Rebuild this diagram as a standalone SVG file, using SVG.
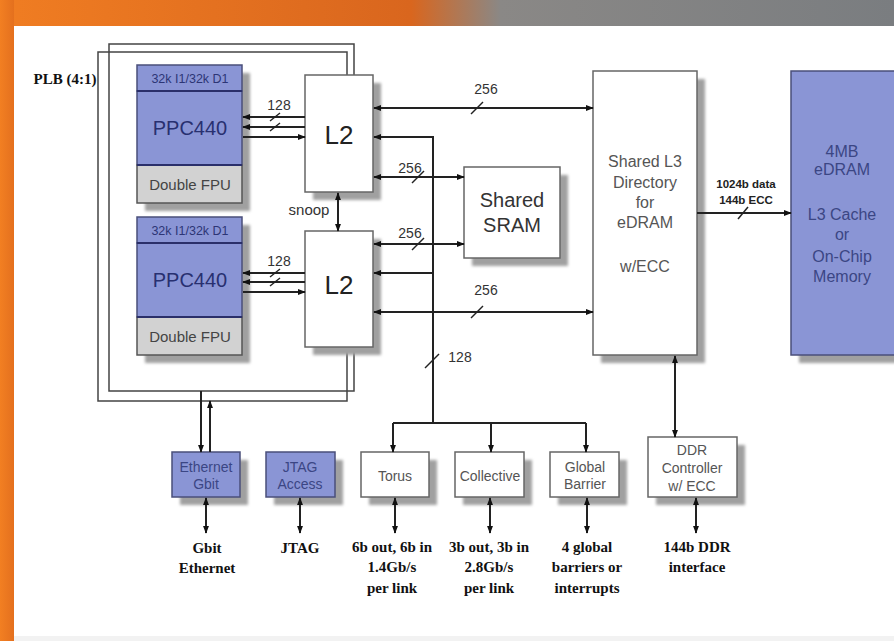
<svg xmlns="http://www.w3.org/2000/svg" width="894" height="641" viewBox="0 0 894 641">
<defs>
<linearGradient id="hdr" x1="0" y1="0" x2="1" y2="0">
<stop offset="0" stop-color="#f07d22"/>
<stop offset="0.46" stop-color="#d9661e"/>
<stop offset="0.56" stop-color="#8a8886"/>
<stop offset="1" stop-color="#7a7d80"/>
</linearGradient>
<linearGradient id="strip" x1="0" y1="0" x2="1" y2="0">
<stop offset="0" stop-color="#f27f22"/>
<stop offset="1" stop-color="#e4701e"/>
</linearGradient>
<filter id="blur" x="-10%" y="-10%" width="120%" height="120%"><feGaussianBlur stdDeviation="1.5"/></filter>
<marker id="a" viewBox="0 0 10 10" refX="9" refY="5" markerWidth="8" markerHeight="8" markerUnits="userSpaceOnUse" orient="auto-start-reverse"><path d="M0,1.2 L10,5 L0,8.8z" fill="#111"/></marker>
</defs>
<style>
.sh{fill:#a0a0a0;filter:url(#blur)}
.wb{fill:#fff;stroke:#666;stroke-width:1.5}
.bb{fill:#8a95d5;stroke:#4a4f7a;stroke-width:1.5}
.gb{fill:#d2d2d2;stroke:#555;stroke-width:1.5}
.ln{stroke:#222;stroke-width:2;fill:none}
.pl{stroke:#444;stroke-width:1.5;fill:none}
.sl{stroke:#222;stroke-width:1.5}
.ar{marker-end:url(#a)}
.ab{marker-start:url(#a);marker-end:url(#a)}
text{font-family:"Liberation Sans",Arial,sans-serif;text-anchor:middle}
.t13{font-size:14px;fill:#333}
.tg{font-size:14px;fill:#555}
.tb{font-size:14px;fill:#3b4684}
.bt{font-family:"Liberation Serif","Times New Roman",serif;font-weight:bold;font-size:15px;fill:#111}
</style>
<rect width="894" height="641" fill="#fff"/>
<rect x="0" y="0" width="894" height="26" fill="url(#hdr)"/>
<rect x="0" y="0" width="14" height="641" fill="url(#strip)"/>
<rect x="14" y="636" width="880" height="5" fill="#f2f2f2"/>

<text x="65" y="84" class="bt" style="font-size:15px">PLB (4:1)</text>

<g id="plb">
<path class="pl" d="M354,75 V44 H109 V391 H354 V347"/>
<path class="pl" d="M347,75 V52 H98 V401 H347 V347"/>
</g>

<g id="ppc1">
<rect class="sh" x="145" y="73" width="105" height="138"/>
<rect class="bb" x="137" y="65" width="105" height="26"/>
<rect class="bb" x="137" y="91" width="105" height="74"/>
<rect class="gb" x="137" y="165" width="105" height="38"/>
<line x1="137" y1="91" x2="242" y2="91" stroke="#2a2f6a" stroke-width="2"/>
<line x1="137" y1="165" x2="242" y2="165" stroke="#2a2f6a" stroke-width="2"/>
<text x="190" y="83" style="font-size:12.5px;fill:#2d3575">32k I1/32k D1</text>
<text x="190" y="135" style="font-size:20px;fill:#283070">PPC440</text>
<text x="190" y="190" style="font-size:15px;fill:#444">Double FPU</text>
</g>

<g id="ppc2">
<rect class="sh" x="145" y="225" width="105" height="138"/>
<rect class="bb" x="137" y="217" width="105" height="26"/>
<rect class="bb" x="137" y="243" width="105" height="74"/>
<rect class="gb" x="137" y="317" width="105" height="38"/>
<line x1="137" y1="243" x2="242" y2="243" stroke="#2a2f6a" stroke-width="2"/>
<line x1="137" y1="317" x2="242" y2="317" stroke="#2a2f6a" stroke-width="2"/>
<text x="190" y="235" style="font-size:12.5px;fill:#2d3575">32k I1/32k D1</text>
<text x="190" y="287" style="font-size:20px;fill:#283070">PPC440</text>
<text x="190" y="342" style="font-size:15px;fill:#444">Double FPU</text>
</g>

<g id="l2a">
<rect class="sh" x="313" y="83" width="68" height="117"/>
<rect class="wb" x="305" y="75" width="68" height="117"/>
<text x="339" y="144" style="font-size:26px;fill:#222">L2</text>
</g>

<g id="l2b">
<rect class="sh" x="313" y="239" width="68" height="116"/>
<rect class="wb" x="305" y="231" width="68" height="116"/>
<text x="339" y="294" style="font-size:26px;fill:#222">L2</text>
</g>

<g id="sram">
<rect class="sh" x="472" y="175" width="96" height="91"/>
<rect class="wb" x="464" y="167" width="96" height="91"/>
<text x="512" y="207" style="font-size:20px;fill:#333">Shared</text>
<text x="512" y="232" style="font-size:20px;fill:#333">SRAM</text>
</g>

<g id="l3dir">
<rect class="sh" x="601" y="79" width="104" height="284"/>
<rect class="wb" x="593" y="71" width="104" height="284"/>
<text x="645" y="167" class="tg" style="font-size:16px">Shared L3</text>
<text x="645" y="188" class="tg" style="font-size:16px">Directory</text>
<text x="645" y="208" class="tg" style="font-size:16px">for</text>
<text x="645" y="228" class="tg" style="font-size:16px">eDRAM</text>
<text x="645" y="272" class="tg" style="font-size:16px">w/ECC</text>
</g>

<g id="edram">
<rect class="sh" x="799" y="79" width="100" height="284"/>
<rect class="bb" x="791" y="71" width="110" height="284"/>
<text x="842" y="157" class="tb" style="font-size:16px">4MB</text>
<text x="842" y="175" class="tb" style="font-size:16px">eDRAM</text>
<text x="842" y="220" class="tb" style="font-size:16px">L3 Cache</text>
<text x="842" y="240" class="tb" style="font-size:16px">or</text>
<text x="842" y="262" class="tb" style="font-size:16px">On-Chip</text>
<text x="842" y="282" class="tb" style="font-size:16px">Memory</text>
</g>

<g id="eth">
<rect class="sh" x="180" y="460" width="68" height="45"/>
<rect class="bb" x="172" y="452" width="68" height="45"/>
<text x="206" y="472" class="tb">Ethernet</text>
<text x="206" y="489" class="tb">Gbit</text>
</g>

<g id="jtag">
<rect class="sh" x="274" y="460" width="69" height="45"/>
<rect class="bb" x="266" y="452" width="69" height="45"/>
<text x="300" y="472" class="tb">JTAG</text>
<text x="300" y="489" class="tb">Access</text>
</g>

<g id="torus">
<rect class="sh" x="369" y="460" width="68" height="45"/>
<rect class="wb" x="361" y="452" width="68" height="45"/>
<text x="395" y="481" class="tg">Torus</text>
</g>

<g id="collective">
<rect class="sh" x="463" y="460" width="69" height="45"/>
<rect class="wb" x="455" y="452" width="69" height="45"/>
<text x="490" y="481" class="tg">Collective</text>
</g>

<g id="barrier">
<rect class="sh" x="558" y="460" width="69" height="45"/>
<rect class="wb" x="550" y="452" width="69" height="45"/>
<text x="585" y="472" class="tg">Global</text>
<text x="585" y="489" class="tg">Barrier</text>
</g>

<g id="ddr">
<rect class="sh" x="656" y="445" width="89" height="60"/>
<rect class="wb" x="648" y="437" width="89" height="60"/>
<text x="692" y="455" class="tg">DDR</text>
<text x="692" y="473" class="tg">Controller</text>
<text x="692" y="491" class="tg">w/ ECC</text>
</g>

<g id="connectors">
<line class="ln" x1="243" y1="117" x2="305" y2="117" style="marker-start:url(#a)"/>
<line class="ln" x1="243" y1="127" x2="305" y2="127" style="marker-start:url(#a)"/>
<line class="ln ar" x1="243" y1="137" x2="305" y2="137"/>
<line class="sl" x1="270" y1="121" x2="280" y2="113"/>
<line class="sl" x1="270" y1="131" x2="280" y2="123"/>
<line class="ln" x1="243" y1="273" x2="305" y2="273" style="marker-start:url(#a)"/>
<line class="ln" x1="243" y1="282" x2="305" y2="282" style="marker-start:url(#a)"/>
<line class="ln ar" x1="243" y1="292" x2="305" y2="292"/>
<line class="sl" x1="270" y1="277" x2="280" y2="269"/>
<line class="sl" x1="270" y1="286" x2="280" y2="278"/>

<line class="ln ab" x1="374" y1="108" x2="593" y2="108"/>
<line class="sl" x1="471" y1="114" x2="483" y2="102"/>
<line class="ln ar" x1="434" y1="137" x2="374" y2="137"/>
<line class="ln ab" x1="374" y1="177" x2="464" y2="177"/>
<line class="sl" x1="412" y1="183" x2="424" y2="171"/>
<line class="ln ab" x1="374" y1="244" x2="464" y2="244"/>
<line class="sl" x1="412" y1="250" x2="424" y2="238"/>
<line class="ln ar" x1="434" y1="273" x2="374" y2="273"/>
<line class="ln ab" x1="374" y1="312" x2="593" y2="312"/>
<line class="sl" x1="471" y1="318" x2="483" y2="306"/>

<line class="ln" x1="433" y1="137" x2="433" y2="423"/>
<line class="sl" x1="425" y1="368" x2="439" y2="354"/>
<line class="ln" x1="393" y1="423" x2="586" y2="423"/>
<line class="ln ar" x1="393" y1="423" x2="393" y2="452"/>
<line class="ln ar" x1="491" y1="423" x2="491" y2="452"/>
<line class="ln ar" x1="586" y1="423" x2="586" y2="452"/>

<line class="ln ab" x1="338" y1="193" x2="338" y2="231"/>

<line class="ln ar" x1="697" y1="213" x2="791" y2="213"/>
<line class="sl" x1="738" y1="219" x2="748" y2="207"/>
<line class="ln ab" x1="675" y1="356" x2="675" y2="437"/>

<line class="ln ar" x1="201" y1="391" x2="201" y2="452"/>
<line class="ln ar" x1="210" y1="452" x2="210" y2="401"/>

<line class="ln ab" x1="206" y1="498" x2="206" y2="533"/>
<line class="ln ab" x1="300" y1="498" x2="300" y2="533"/>
<line class="ln ab" x1="395" y1="498" x2="395" y2="533"/>
<line class="ln ab" x1="490" y1="498" x2="490" y2="533"/>
<line class="ln ab" x1="587" y1="498" x2="587" y2="533"/>
<line class="ln ab" x1="696" y1="498" x2="696" y2="533"/>

<text x="279" y="110" class="t13">128</text>
<text x="279" y="266" class="t13">128</text>
<text x="486" y="94" class="t13">256</text>
<text x="410" y="173" class="t13">256</text>
<text x="410" y="238" class="t13">256</text>
<text x="486" y="295" class="t13">256</text>
<text x="460" y="362" class="t13">128</text>
<text x="309" y="215" style="font-size:15px;fill:#333">snoop</text>
<text x="746" y="188" style="font-size:11.5px;font-weight:bold;fill:#222">1024b data</text>
<text x="746" y="204" style="font-size:11.5px;font-weight:bold;fill:#222">144b ECC</text>
</g>

<g id="labels">
<text x="207" y="553" class="bt">Gbit</text>
<text x="207" y="573" class="bt">Ethernet</text>
<text x="300" y="553" class="bt">JTAG</text>
<text x="392" y="552" class="bt">6b out, 6b in</text>
<text x="392" y="572" class="bt">1.4Gb/s</text>
<text x="392" y="593" class="bt">per link</text>
<text x="489" y="552" class="bt">3b out, 3b in</text>
<text x="489" y="572" class="bt">2.8Gb/s</text>
<text x="489" y="593" class="bt">per link</text>
<text x="587" y="552" class="bt">4 global</text>
<text x="587" y="572" class="bt">barriers or</text>
<text x="587" y="593" class="bt">interrupts</text>
<text x="697" y="552" class="bt">144b DDR</text>
<text x="697" y="572" class="bt">interface</text>
</g>
</svg>
